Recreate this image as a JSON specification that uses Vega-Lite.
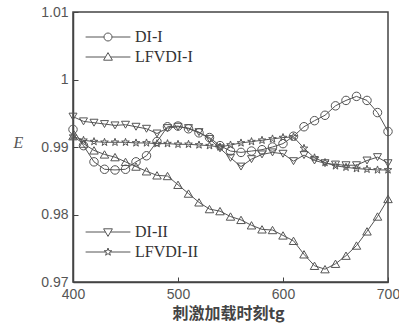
{
  "$schema": "https://vega.github.io/schema/vega-lite/v6.json",
  "width": 315,
  "height": 270,
  "autosize": "none",
  "padding": {"left": 73, "top": 12, "right": 11, "bottom": 46},
  "background": "white",
  "config": {
    "view": {"stroke": "#444", "strokeWidth": 1.5},
    "axis": {
      "grid": false,
      "domainColor": "#444",
      "domainWidth": 1.5,
      "tickColor": "#444",
      "tickSize": -5,
      "labelFont": "Liberation Sans",
      "labelFontSize": 14,
      "labelColor": "#555",
      "labelPadding": 10,
      "labelFlush": false
    },
    "legend": {
      "orient": "none",
      "padding": 0,
      "symbolSize": 64,
      "symbolStrokeWidth": 1,
      "symbolStrokeColor": "#555",
      "symbolFillColor": "transparent",
      "labelOffset": 19,
      "labelFont": "Liberation Serif",
      "labelFontSize": 16,
      "labelColor": "#333",
      "title": null
    }
  },
  "data": {
    "values": [
      {"s": "DI-I", "t": 400, "E": 0.9926}, {"s": "DI-I", "t": 410, "E": 0.9902}, {"s": "DI-I", "t": 420, "E": 0.9878}, {"s": "DI-I", "t": 430, "E": 0.9867}, {"s": "DI-I", "t": 440, "E": 0.9866}, {"s": "DI-I", "t": 450, "E": 0.9867}, {"s": "DI-I", "t": 460, "E": 0.9878}, {"s": "DI-I", "t": 470, "E": 0.9887}, {"s": "DI-I", "t": 480, "E": 0.9908}, {"s": "DI-I", "t": 490, "E": 0.9930}, {"s": "DI-I", "t": 500, "E": 0.9931}, {"s": "DI-I", "t": 510, "E": 0.9927}, {"s": "DI-I", "t": 520, "E": 0.9921}, {"s": "DI-I", "t": 530, "E": 0.9914}, {"s": "DI-I", "t": 540, "E": 0.9902}, {"s": "DI-I", "t": 550, "E": 0.9894}, {"s": "DI-I", "t": 560, "E": 0.9892}, {"s": "DI-I", "t": 570, "E": 0.9894}, {"s": "DI-I", "t": 580, "E": 0.9896}, {"s": "DI-I", "t": 590, "E": 0.9900}, {"s": "DI-I", "t": 600, "E": 0.9905}, {"s": "DI-I", "t": 610, "E": 0.9916}, {"s": "DI-I", "t": 620, "E": 0.9930}, {"s": "DI-I", "t": 630, "E": 0.9939}, {"s": "DI-I", "t": 640, "E": 0.9947}, {"s": "DI-I", "t": 650, "E": 0.9961}, {"s": "DI-I", "t": 660, "E": 0.9969}, {"s": "DI-I", "t": 670, "E": 0.9975}, {"s": "DI-I", "t": 680, "E": 0.9969}, {"s": "DI-I", "t": 690, "E": 0.9951}, {"s": "DI-I", "t": 700, "E": 0.9923},
      {"s": "LFVDI-I", "t": 400, "E": 0.9916}, {"s": "LFVDI-I", "t": 410, "E": 0.9905}, {"s": "LFVDI-I", "t": 420, "E": 0.9895}, {"s": "LFVDI-I", "t": 430, "E": 0.9889}, {"s": "LFVDI-I", "t": 440, "E": 0.9885}, {"s": "LFVDI-I", "t": 450, "E": 0.9878}, {"s": "LFVDI-I", "t": 460, "E": 0.9871}, {"s": "LFVDI-I", "t": 470, "E": 0.9864}, {"s": "LFVDI-I", "t": 480, "E": 0.9858}, {"s": "LFVDI-I", "t": 490, "E": 0.9857}, {"s": "LFVDI-I", "t": 500, "E": 0.9844}, {"s": "LFVDI-I", "t": 510, "E": 0.9831}, {"s": "LFVDI-I", "t": 520, "E": 0.9818}, {"s": "LFVDI-I", "t": 530, "E": 0.9808}, {"s": "LFVDI-I", "t": 540, "E": 0.9805}, {"s": "LFVDI-I", "t": 550, "E": 0.9797}, {"s": "LFVDI-I", "t": 560, "E": 0.9792}, {"s": "LFVDI-I", "t": 570, "E": 0.9784}, {"s": "LFVDI-I", "t": 580, "E": 0.9778}, {"s": "LFVDI-I", "t": 590, "E": 0.9777}, {"s": "LFVDI-I", "t": 600, "E": 0.9769}, {"s": "LFVDI-I", "t": 610, "E": 0.9761}, {"s": "LFVDI-I", "t": 620, "E": 0.9741}, {"s": "LFVDI-I", "t": 630, "E": 0.9724}, {"s": "LFVDI-I", "t": 640, "E": 0.9719}, {"s": "LFVDI-I", "t": 650, "E": 0.9727}, {"s": "LFVDI-I", "t": 660, "E": 0.9739}, {"s": "LFVDI-I", "t": 670, "E": 0.9754}, {"s": "LFVDI-I", "t": 680, "E": 0.9775}, {"s": "LFVDI-I", "t": 690, "E": 0.9797}, {"s": "LFVDI-I", "t": 700, "E": 0.9823},
      {"s": "DI-II", "t": 400, "E": 0.9945}, {"s": "DI-II", "t": 410, "E": 0.9938}, {"s": "DI-II", "t": 420, "E": 0.9936}, {"s": "DI-II", "t": 430, "E": 0.9934}, {"s": "DI-II", "t": 440, "E": 0.9932}, {"s": "DI-II", "t": 450, "E": 0.9933}, {"s": "DI-II", "t": 460, "E": 0.9930}, {"s": "DI-II", "t": 470, "E": 0.9927}, {"s": "DI-II", "t": 480, "E": 0.9920}, {"s": "DI-II", "t": 490, "E": 0.9928}, {"s": "DI-II", "t": 500, "E": 0.9930}, {"s": "DI-II", "t": 510, "E": 0.9928}, {"s": "DI-II", "t": 520, "E": 0.9922}, {"s": "DI-II", "t": 530, "E": 0.9912}, {"s": "DI-II", "t": 540, "E": 0.9898}, {"s": "DI-II", "t": 550, "E": 0.9884}, {"s": "DI-II", "t": 560, "E": 0.9871}, {"s": "DI-II", "t": 570, "E": 0.9882}, {"s": "DI-II", "t": 580, "E": 0.9889}, {"s": "DI-II", "t": 590, "E": 0.9892}, {"s": "DI-II", "t": 600, "E": 0.9890}, {"s": "DI-II", "t": 610, "E": 0.9879}, {"s": "DI-II", "t": 620, "E": 0.9888}, {"s": "DI-II", "t": 630, "E": 0.9880}, {"s": "DI-II", "t": 640, "E": 0.9876}, {"s": "DI-II", "t": 650, "E": 0.9874}, {"s": "DI-II", "t": 660, "E": 0.9873}, {"s": "DI-II", "t": 670, "E": 0.9873}, {"s": "DI-II", "t": 680, "E": 0.9880}, {"s": "DI-II", "t": 690, "E": 0.9885}, {"s": "DI-II", "t": 700, "E": 0.9876},
      {"s": "LFVDI-II", "t": 400, "E": 0.9916}, {"s": "LFVDI-II", "t": 410, "E": 0.9910}, {"s": "LFVDI-II", "t": 420, "E": 0.9908}, {"s": "LFVDI-II", "t": 430, "E": 0.9907}, {"s": "LFVDI-II", "t": 440, "E": 0.9907}, {"s": "LFVDI-II", "t": 450, "E": 0.9907}, {"s": "LFVDI-II", "t": 460, "E": 0.9906}, {"s": "LFVDI-II", "t": 470, "E": 0.9906}, {"s": "LFVDI-II", "t": 480, "E": 0.9905}, {"s": "LFVDI-II", "t": 490, "E": 0.9905}, {"s": "LFVDI-II", "t": 500, "E": 0.9904}, {"s": "LFVDI-II", "t": 510, "E": 0.9904}, {"s": "LFVDI-II", "t": 520, "E": 0.9903}, {"s": "LFVDI-II", "t": 530, "E": 0.9902}, {"s": "LFVDI-II", "t": 540, "E": 0.9900}, {"s": "LFVDI-II", "t": 550, "E": 0.9903}, {"s": "LFVDI-II", "t": 560, "E": 0.9906}, {"s": "LFVDI-II", "t": 570, "E": 0.9908}, {"s": "LFVDI-II", "t": 580, "E": 0.9910}, {"s": "LFVDI-II", "t": 590, "E": 0.9912}, {"s": "LFVDI-II", "t": 600, "E": 0.9914}, {"s": "LFVDI-II", "t": 610, "E": 0.9915}, {"s": "LFVDI-II", "t": 620, "E": 0.9898}, {"s": "LFVDI-II", "t": 630, "E": 0.9884}, {"s": "LFVDI-II", "t": 640, "E": 0.9877}, {"s": "LFVDI-II", "t": 650, "E": 0.9872}, {"s": "LFVDI-II", "t": 660, "E": 0.9870}, {"s": "LFVDI-II", "t": 670, "E": 0.9868}, {"s": "LFVDI-II", "t": 680, "E": 0.9867}, {"s": "LFVDI-II", "t": 690, "E": 0.9866}, {"s": "LFVDI-II", "t": 700, "E": 0.9866}
    ]
  },
  "encoding": {
    "x": {
      "field": "t", "type": "quantitative",
      "scale": {"domain": [400, 700], "nice": false, "zero": false},
      "axis": {
        "values": [400, 500, 600, 700],
        "title": "刺激加载时刻tg",
        "titleFont": "Noto Sans CJK SC",
        "titleFontSize": 16,
        "titleFontWeight": "bold",
        "titleColor": "#444",
        "titlePadding": 4,
        "titleX": 155
      }
    },
    "y": {
      "field": "E", "type": "quantitative",
      "scale": {"domain": [0.97, 1.01], "nice": false, "zero": false},
      "axis": {
        "values": [0.97, 0.98, 0.99, 1, 1.01],
        "format": ".2~f",
        "title": "E",
        "titleAngle": 0,
        "titleFont": "Liberation Serif",
        "titleFontStyle": "italic",
        "titleFontWeight": "normal",
        "titleFontSize": 16,
        "titleColor": "#555",
        "titleX": -55,
        "titleY": 130,
        "titleAlign": "center",
        "titleBaseline": "middle"
      }
    }
  },
  "layer": [
    {
      "transform": [{"filter": "datum.s === 'DI-I'"}],
      "layer": [
        {
          "mark": {"type": "line", "strokeWidth": 1},
          "encoding": {
            "color": {
              "field": "s", "type": "nominal",
              "scale": {"range": ["#555"]},
              "legend": {"legendX": 27, "legendY": 17, "symbolType": "M-5.6,0L-1,0M1,0L5.6,0M1,0A1,1,0,1,1,-1,0A1,1,0,1,1,1,0"}
            }
          }
        },
        {"mark": {"type": "point", "shape": "circle", "filled": false, "color": "#555", "size": 72, "strokeWidth": 1, "opacity": 1}}
      ]
    },
    {
      "transform": [{"filter": "datum.s === 'LFVDI-I'"}],
      "layer": [
        {
          "mark": {"type": "line", "strokeWidth": 1},
          "encoding": {
            "color": {
              "field": "s", "type": "nominal",
              "scale": {"range": ["#555"]},
              "legend": {"legendX": 27, "legendY": 37, "symbolType": "M-5.6,0L-0.64,0M0.64,0L5.6,0M0,-1.1L1.1,0.8L-1.1,0.8Z"}
            }
          }
        },
        {"mark": {"type": "point", "shape": "triangle-up", "filled": false, "color": "#555", "size": 72, "strokeWidth": 1, "opacity": 1}}
      ]
    },
    {
      "transform": [{"filter": "datum.s === 'DI-II'"}],
      "layer": [
        {
          "mark": {"type": "line", "strokeWidth": 1},
          "encoding": {
            "color": {
              "field": "s", "type": "nominal",
              "scale": {"range": ["#555"]},
              "legend": {"legendX": 27, "legendY": 212, "symbolType": "M-5.6,0L-0.64,0M0.64,0L5.6,0M0,1.1L1.1,-0.8L-1.1,-0.8Z"}
            }
          }
        },
        {"mark": {"type": "point", "shape": "triangle-down", "filled": false, "color": "#555", "size": 64, "strokeWidth": 1, "opacity": 1}}
      ]
    },
    {
      "transform": [{"filter": "datum.s === 'LFVDI-II'"}],
      "layer": [
        {
          "mark": {"type": "line", "strokeWidth": 1},
          "encoding": {
            "color": {
              "field": "s", "type": "nominal",
              "scale": {"range": ["#555"]},
              "legend": {"legendX": 27, "legendY": 232, "symbolType": "M-5.6,0L-0.55,0M0.55,0L5.6,0M0,-1L0.235,-0.324L0.951,-0.309L0.38,0.124L0.588,0.809L0,0.4L-0.588,0.809L-0.38,0.124L-0.951,-0.309L-0.235,-0.324Z"}
            }
          }
        },
        {"mark": {"type": "point", "shape": "M0,-1L0.235,-0.324L0.951,-0.309L0.38,0.124L0.588,0.809L0,0.4L-0.588,0.809L-0.38,0.124L-0.951,-0.309L-0.235,-0.324Z", "filled": false, "color": "#555", "size": 64, "strokeWidth": 1, "opacity": 1}}
      ]
    }
  ],
  "resolve": {"scale": {"color": "independent"}}
}
